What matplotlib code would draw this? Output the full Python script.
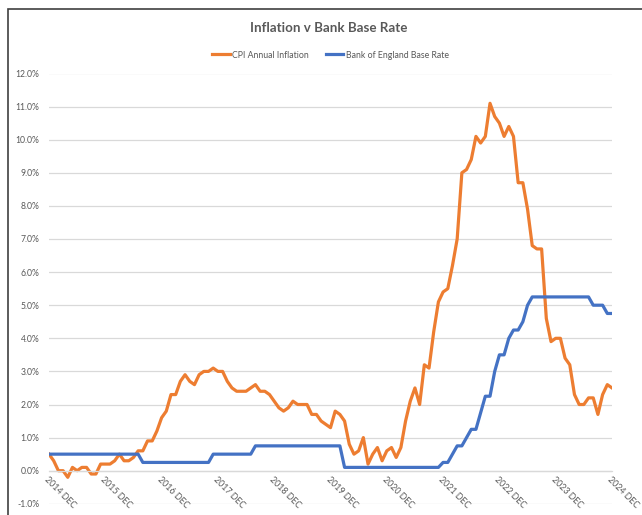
import numpy as np
import matplotlib
matplotlib.use("Agg")
import matplotlib.pyplot as plt
from matplotlib.patches import Rectangle
from matplotlib.ticker import FuncFormatter

plt.rcParams['font.family'] = ['Lato', 'DejaVu Sans']

# monthly values, Dec 2014 .. Dec 2024
month_names = ['JAN', 'FEB', 'MAR', 'APR', 'MAY', 'JUN',
               'JUL', 'AUG', 'SEP', 'OCT', 'NOV', 'DEC']
years = list(range(2015, 2025))

cpi_2014 = [0.5]
cpi_2015 = [0.3, 0.0, 0.0, -0.2, 0.1, 0.0, 0.1, 0.1, -0.1, -0.1, 0.2, 0.2]
cpi_2016 = [0.2, 0.3, 0.5, 0.3, 0.3, 0.4, 0.6, 0.6, 0.9, 0.9, 1.2, 1.6]
cpi_2017 = [1.8, 2.3, 2.3, 2.7, 2.9, 2.7, 2.6, 2.9, 3.0, 3.0, 3.1, 3.0]
cpi_2018 = [3.0, 2.7, 2.5, 2.4, 2.4, 2.4, 2.5, 2.6, 2.4, 2.4, 2.3, 2.1]
cpi_2019 = [1.9, 1.8, 1.9, 2.1, 2.0, 2.0, 2.0, 1.7, 1.7, 1.5, 1.4, 1.3]
cpi_2020 = [1.8, 1.7, 1.5, 0.8, 0.5, 0.6, 1.0, 0.2, 0.5, 0.7, 0.3, 0.6]
cpi_2021 = [0.7, 0.4, 0.7, 1.5, 2.1, 2.5, 2.0, 3.2, 3.1, 4.2, 5.1, 5.4]
cpi_2022 = [5.5, 6.2, 7.0, 9.0, 9.1, 9.4, 10.1, 9.9, 10.1, 11.1, 10.7, 10.5]
cpi_2023 = [10.1, 10.4, 10.1, 8.7, 8.7, 7.9, 6.8, 6.7, 6.7, 4.6, 3.9, 4.0]
cpi_2024 = [4.0, 3.4, 3.2, 2.3, 2.0, 2.0, 2.2, 2.2, 1.7, 2.3, 2.6, 2.5]

rate_2014 = [0.5]
rate_2015 = [0.5, 0.5, 0.5, 0.5, 0.5, 0.5, 0.5, 0.5, 0.5, 0.5, 0.5, 0.5]
rate_2016 = [0.5, 0.5, 0.5, 0.5, 0.5, 0.5, 0.5, 0.25, 0.25, 0.25, 0.25, 0.25]
rate_2017 = [0.25, 0.25, 0.25, 0.25, 0.25, 0.25, 0.25, 0.25, 0.25, 0.25, 0.5, 0.5]
rate_2018 = [0.5, 0.5, 0.5, 0.5, 0.5, 0.5, 0.5, 0.75, 0.75, 0.75, 0.75, 0.75]
rate_2019 = [0.75, 0.75, 0.75, 0.75, 0.75, 0.75, 0.75, 0.75, 0.75, 0.75, 0.75, 0.75]
rate_2020 = [0.75, 0.75, 0.1, 0.1, 0.1, 0.1, 0.1, 0.1, 0.1, 0.1, 0.1, 0.1]
rate_2021 = [0.1, 0.1, 0.1, 0.1, 0.1, 0.1, 0.1, 0.1, 0.1, 0.1, 0.1, 0.25]
rate_2022 = [0.25, 0.5, 0.75, 0.75, 1.0, 1.25, 1.25, 1.75, 2.25, 2.25, 3.0, 3.5]
rate_2023 = [3.5, 4.0, 4.25, 4.25, 4.5, 5.0, 5.25, 5.25, 5.25, 5.25, 5.25, 5.25]
rate_2024 = [5.25, 5.25, 5.25, 5.25, 5.25, 5.25, 5.25, 5.0, 5.0, 5.0, 4.75, 4.75]

cpi = (cpi_2014 + cpi_2015 + cpi_2016 + cpi_2017 + cpi_2018 + cpi_2019
       + cpi_2020 + cpi_2021 + cpi_2022 + cpi_2023 + cpi_2024)
rate = (rate_2014 + rate_2015 + rate_2016 + rate_2017 + rate_2018 + rate_2019
        + rate_2020 + rate_2021 + rate_2022 + rate_2023 + rate_2024)

labels = ['2014 DEC'] + [f'{y} {m}' for y in years for m in month_names]

W, H = 642, 515
fig = plt.figure(figsize=(W / 100, H / 100), dpi=100)
ax = fig.add_axes([49 / W, 1 - 503.8 / H, (612 - 49) / W, (503.8 - 73.5) / H])

x = np.arange(len(cpi))
ax.plot(x, cpi, color='#ED7D31', lw=2.3, solid_joinstyle='round',
        label='CPI Annual Inflation')
ax.plot(x, rate, color='#4472C4', lw=2.3, solid_joinstyle='round',
        label='Bank of England Base Rate')

ax.set_xlim(0, len(cpi) - 1)
ax.set_ylim(-1, 12)
ax.set_yticks(np.arange(-1, 13, 1))
ax.yaxis.set_major_formatter(FuncFormatter(lambda v, p: f'{v:.1f}%'))
ax.grid(axis='y', color='#D9D9D9', lw=0.9)
ax.set_axisbelow(True)

for s in ['left', 'right', 'top']:
    ax.spines[s].set_visible(False)
ax.spines['bottom'].set_position(('data', 0))
ax.spines['bottom'].set_color('#D9D9D9')
ax.spines['bottom'].set_linewidth(0.9)

ax.set_xticks(x[::12])
ax.set_xticklabels(labels[::12])
ax.tick_params(axis='x', length=0, pad=3, labelsize=6.4, labelcolor='#595959')
ax.tick_params(axis='y', length=0, pad=7, labelsize=6.2, labelcolor='#595959')
for lbl in ax.get_xticklabels():
    lbl.set_rotation(-45)
    lbl.set_ha('left')
    lbl.set_va('top')
    lbl.set_rotation_mode('anchor')

fig.text(329 / W, 1 - 28 / H, 'Inflation v Bank Base Rate', ha='center', va='center',
         fontsize=9.6, fontweight='bold', color='#595959')
fig.legend(loc='center', bbox_to_anchor=(330.5 / W, 1 - 55 / H), ncol=2, frameon=False,
           fontsize=6.3, labelcolor='#595959', handlelength=2.0, handletextpad=0.3,
           columnspacing=1.9)

# chart frame (only top and left edges fall inside the picture)
fig.patches.append(Rectangle((8 / W, -0.1), 1.2, 1.1 - 9.5 / H, transform=fig.transFigure,
                             fill=False, edgecolor='#404040', lw=1.2))

fig.savefig('out.png', dpi=100)
